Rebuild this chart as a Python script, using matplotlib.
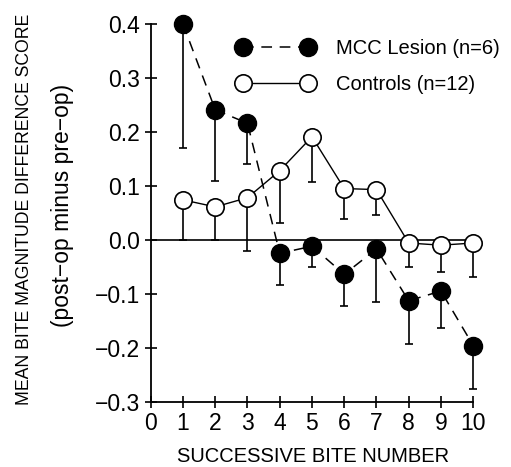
import matplotlib
matplotlib.use("Agg")
import matplotlib.pyplot as plt

bite = [1, 2, 3, 4, 5, 6, 7, 8, 9, 10]
lesion_mean = [0.400, 0.241, 0.216, -0.025, -0.012, -0.064, -0.017, -0.113, -0.095, -0.196]
lesion_err = [0.229, 0.132, 0.076, 0.059, 0.038, 0.059, 0.098, 0.080, 0.069, 0.080]
control_mean = [0.074, 0.061, 0.078, 0.128, 0.191, 0.095, 0.093, -0.006, -0.010, -0.006]
control_err = [0.074, 0.061, 0.099, 0.097, 0.084, 0.057, 0.047, 0.044, 0.050, 0.063]
xticks = [0, 1, 2, 3, 4, 5, 6, 7, 8, 9, 10]
yticks = [-0.3, -0.2, -0.1, 0.0, 0.1, 0.2, 0.3, 0.4]

plt.rcParams['font.family'] = ['Liberation Sans', 'DejaVu Sans']

fig = plt.figure(figsize=(5.11, 4.67), dpi=100)
ax = fig.add_axes([0.295, 0.14, 0.631, 0.8086])

ax.axhline(0, color='black', lw=1.2, zorder=1)

ax.errorbar(bite, lesion_mean, yerr=[lesion_err, [0]*len(bite)], fmt='none',
            ecolor='black', elinewidth=1.2, capsize=3.2, capthick=1.2, zorder=2, clip_on=False)
ax.errorbar(bite, control_mean, yerr=[control_err, [0]*len(bite)], fmt='none',
            ecolor='black', elinewidth=1.2, capsize=3.2, capthick=1.2, zorder=2, clip_on=False)

ax.plot(bite, lesion_mean, color='black', lw=1.1, dashes=(7, 5), marker='o',
        markersize=13, markerfacecolor='black', markeredgecolor='black',
        label='MCC Lesion (n=6)', zorder=4, clip_on=False)
ax.plot(bite, control_mean, color='black', lw=1.0, marker='o',
        markersize=12.5, markerfacecolor='white', markeredgecolor='black', markeredgewidth=1.2,
        label='Controls (n=12)', zorder=3, clip_on=False)

ax.set_xlim(0, 10)
ax.set_ylim(-0.3, 0.4)
ax.set_xticks(xticks)
ax.set_yticks(yticks)
ax.set_xticklabels([str(t) for t in xticks])
ax.set_yticklabels(['\u22120.3', '\u22120.2', '\u22120.1', '0.0', '0.1', '0.2', '0.3', '0.4'])
ax.tick_params(direction='inout', length=9, width=1.2, labelsize=16.5, pad=3)
for s in ['top', 'right']:
    ax.spines[s].set_visible(False)
for s in ['left', 'bottom']:
    ax.spines[s].set_linewidth(1.3)

fig.text(0.6125, 1 - 457/467, 'SUCCESSIVE BITE NUMBER', fontsize=14.5, ha='center', va='center')
fig.text(25/511, 1 - 209/467, 'MEAN BITE MAGNITUDE DIFFERENCE SCORE', rotation=90,
         fontsize=12.7, ha='center', va='center')
fig.text(63/511, 1 - 205/467, '(post\u2212op minus pre\u2212op)', rotation=90,
         fontsize=16.5, ha='center', va='center')

ax.legend(loc='upper left', bbox_to_anchor=(237/511, 1 - 39/467),
          bbox_transform=fig.transFigure, frameon=False, numpoints=2, borderpad=0,
          borderaxespad=0, handlelength=3.83, fontsize=14.5, labelspacing=0.85,
          handletextpad=1.1)

fig.savefig('out.png', dpi=100)
